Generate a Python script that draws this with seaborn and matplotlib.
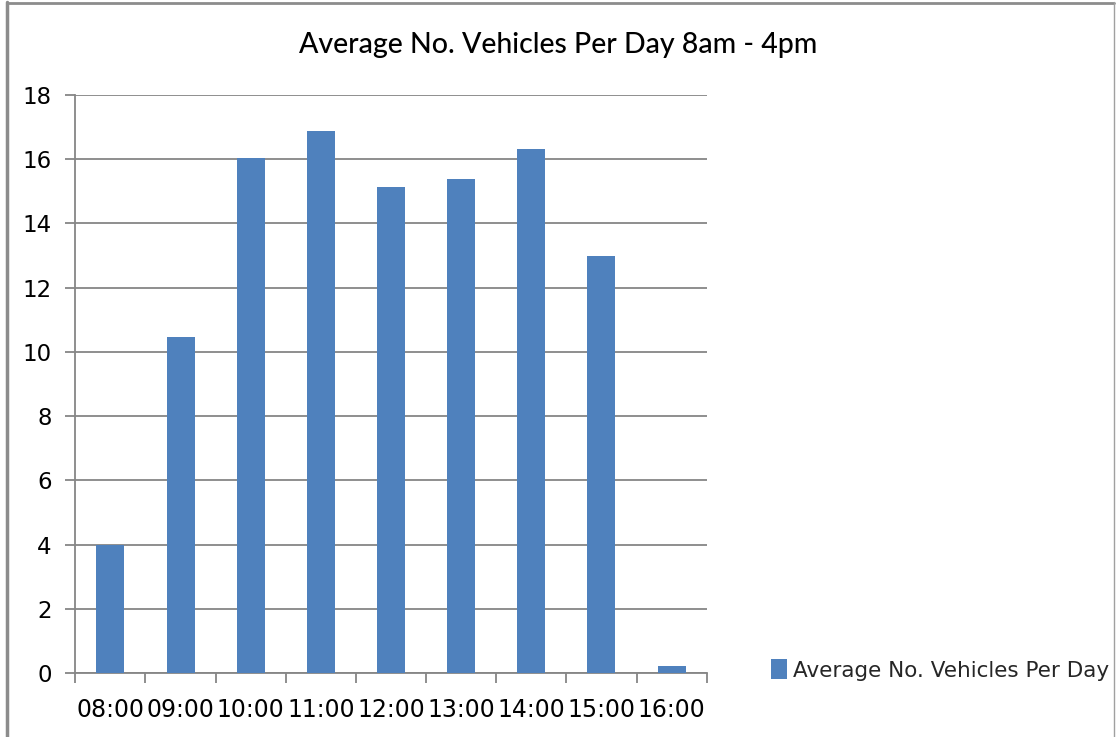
import matplotlib
matplotlib.use("Agg")
import matplotlib.pyplot as plt
from matplotlib.lines import Line2D
from matplotlib.patches import Patch
import seaborn as sns
import pandas as pd

hours = ["08:00", "09:00", "10:00", "11:00", "12:00", "13:00", "14:00", "15:00", "16:00"]
vehicles = [4.0, 10.45, 16.04, 16.88, 15.13, 15.38, 16.32, 12.98, 0.22]
series_name = "Average No. Vehicles Per Day"
title = "Average No. Vehicles Per Day 8am - 4pm"

sns.set_theme(style="white")
plt.rcParams["font.family"] = ["DejaVu Sans"]

W, H = 1117, 737
fig = plt.figure(figsize=(W / 100, H / 100), dpi=100)
ax = fig.add_axes([75.3 / W, 1 - 673.3 / H, (706.7 - 75.3) / W, (673.3 - 94.7) / H])

df = pd.DataFrame({"hour": hours, "value": vehicles})
bar_color = "#4F81BD"
sns.barplot(data=df, x="hour", y="value", color=bar_color, width=0.4,
            saturation=1, ax=ax, zorder=3, linewidth=0, edgecolor=bar_color)

grey = "#868686"
ax.set_ylim(0, 18)
ax.set_yticks(range(0, 19, 2))
ax.set_xlim(-0.5, len(hours) - 0.5)
ax.yaxis.grid(True, color=grey, linewidth=1.3)
ax.set_axisbelow(True)
for s in ["top", "right"]:
    ax.spines[s].set_visible(False)
for s in ["left", "bottom"]:
    ax.spines[s].set_color(grey)
    ax.spines[s].set_linewidth(1.3)
ax.set_xlabel("")
ax.set_ylabel("")
ax.tick_params(axis="y", which="major", left=True, length=7, width=1.3, color=grey,
               labelsize=16.5, pad=10, labelcolor="black")
ax.tick_params(axis="x", which="major", bottom=False, length=0, labelsize=17, pad=18,
               labelcolor="black")
ax.set_xticks([i - 0.5 for i in range(len(hours) + 1)], minor=True)
ax.tick_params(axis="x", which="minor", bottom=True, length=7, width=1.3, color=grey)

fig.text(0.5, 1 - 45 / H, title, ha="center", va="center", fontsize=20.5,
         family=["Lato", "DejaVu Sans"], color="black", fontweight="medium")

handle = Patch(facecolor=bar_color, edgecolor="none")
fig.legend([handle], [series_name], loc="center left",
           bbox_to_anchor=(771 / W, 1 - 670 / H), frameon=False, fontsize=15.5,
           handlelength=0.75, handleheight=1.0, handletextpad=0.25, borderpad=0,
           borderaxespad=0)

# figure frame
fig.add_artist(Line2D([7 / W, 7 / W], [0, 1 - 2 / H], transform=fig.transFigure,
                      color="#8c8c8c", linewidth=2.5))
fig.add_artist(Line2D([7 / W, 1114 / W], [1 - 2.5 / H, 1 - 2.5 / H], transform=fig.transFigure,
                      color="#8c8c8c", linewidth=2))
fig.add_artist(Line2D([1114 / W, 1114 / W], [0, 1 - 2 / H], transform=fig.transFigure,
                      color="#a0a0a0", linewidth=1))

fig.savefig("out.png", dpi=100)
